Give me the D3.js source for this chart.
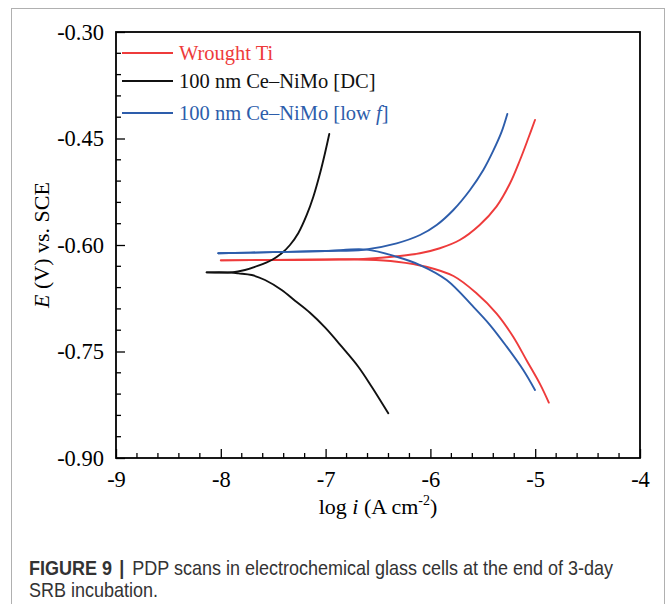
<!DOCTYPE html>
<html>
<head>
<meta charset="utf-8">
<script src="https://cdn.jsdelivr.net/npm/d3@7"></script>
<style>
  html, body { margin: 0; padding: 0; background: #fff; }
  svg { display: block; }
</style>
</head>
<body>
<svg id="chart" width="668" height="604"></svg>
<script>
// Potentiodynamic polarization scans: log i (A cm^-2) vs E (V vs. SCE)
const seriesNames = ["Wrought Ti", "100 nm Ce\u2013NiMo [DC]", "100 nm Ce\u2013NiMo [low f]"];
const seriesColors = ["#ee3b3b", "#111111", "#2d5dab"];

// Wrought Ti
const tiCathodicLogI = [-8.00, -7.50, -7.00, -6.60, -6.32, -6.04, -5.78, -5.56, -5.37, -5.21, -5.08, -4.95, -4.87];
const tiCathodicE    = [-0.6216, -0.6212, -0.6208, -0.6207, -0.6235, -0.6306, -0.6437, -0.668, -0.6962, -0.7292, -0.763, -0.797, -0.822];
const tiAnodicLogI   = [-8.00, -7.50, -7.00, -6.64, -6.29, -6.10, -5.91, -5.72, -5.53, -5.37, -5.24, -5.145, -5.066, -5.002];
const tiAnodicE      = [-0.6216, -0.6210, -0.6203, -0.6195, -0.6155, -0.6117, -0.6046, -0.593, -0.5718, -0.546, -0.5131, -0.4803, -0.4497, -0.4239];

// 100 nm Ce–NiMo [DC]
const dcCathodicLogI = [-8.135, -7.90, -7.833, -7.705, -7.578, -7.419, -7.292, -7.149, -7.006, -6.846, -6.688, -6.56, -6.402];
const dcCathodicE    = [-0.6385, -0.6387, -0.6399, -0.6423, -0.6493, -0.6634, -0.6785, -0.6955, -0.7161, -0.7432, -0.7714, -0.7996, -0.837];
const dcAnodicLogI   = [-8.135, -7.896, -7.769, -7.642, -7.514, -7.419, -7.34, -7.261, -7.18, -7.117, -7.053, -7.006, -6.965];
const dcAnodicE      = [-0.6385, -0.6385, -0.6352, -0.6292, -0.6211, -0.6117, -0.600, -0.5835, -0.5577, -0.532, -0.499, -0.4708, -0.4437];

// 100 nm Ce–NiMo [low f]
const lfCathodicLogI = [-8.024, -7.50, -7.00, -6.608, -6.322, -6.099, -5.845, -5.591, -5.431, -5.272, -5.114, -5.002];
const lfCathodicE    = [-0.6117, -0.6101, -0.6084, -0.6065, -0.6165, -0.6282, -0.6493, -0.6869, -0.7127, -0.7432, -0.7761, -0.8042];
const lfAnodicLogI   = [-8.024, -7.50, -7.00, -6.64, -6.322, -6.099, -5.94, -5.781, -5.622, -5.495, -5.40, -5.32, -5.266];
const lfAnodicE      = [-0.6117, -0.6101, -0.6084, -0.6068, -0.5976, -0.5859, -0.5718, -0.5507, -0.5225, -0.4944, -0.4672, -0.4404, -0.4155];

const xMajorTicks = [-9, -8, -7, -6, -5, -4];
const yMajorTicks = [-0.30, -0.45, -0.60, -0.75, -0.90];

const branches = [
  { s: 0, x: tiCathodicLogI, y: tiCathodicE },
  { s: 0, x: tiAnodicLogI,   y: tiAnodicE },
  { s: 1, x: dcCathodicLogI, y: dcCathodicE },
  { s: 1, x: dcAnodicLogI,   y: dcAnodicE },
  { s: 2, x: lfCathodicLogI, y: lfCathodicE },
  { s: 2, x: lfAnodicLogI,   y: lfAnodicE }
];

const svg = d3.select("#chart");
const serif = "'Liberation Serif', 'Times New Roman', serif";

// figure frame
svg.append("rect")
  .attr("x", 11.5).attr("y", 8.5).attr("width", 653).attr("height", 700)
  .attr("fill", "none").attr("stroke", "#b0b0b0").attr("stroke-width", 1);

const plot = { left: 116, right: 640, top: 32, bottom: 458 };
const x = d3.scaleLinear().domain([-9, -4]).range([plot.left, plot.right]);
const y = d3.scaleLinear().domain([-0.30, -0.90]).range([plot.top, plot.bottom]);

// minor ticks
const xMinor = d3.range(-9, -4 + 1e-9, 0.2).filter(v => Math.abs(v - Math.round(v)) > 1e-6);
const yMinor = d3.range(-0.30, -0.90 - 1e-9, -0.03).filter(v => !yMajorTicks.some(t => Math.abs(t - v) < 1e-6));

const g = svg.append("g");

g.selectAll("line.xminor").data(xMinor).join("line")
  .attr("x1", d => x(d)).attr("x2", d => x(d))
  .attr("y1", plot.bottom).attr("y2", plot.bottom - 5)
  .attr("stroke", "#000").attr("stroke-width", 1.3);
g.selectAll("line.yminor").data(yMinor).join("line")
  .attr("x1", plot.left).attr("x2", plot.left + 5)
  .attr("y1", d => y(d)).attr("y2", d => y(d))
  .attr("stroke", "#000").attr("stroke-width", 1.3);

// axes (ticks pointing inward), labels with a plain hyphen
const hyphen = s => s.replace("\u2212", "-");
const xAxis = d3.axisBottom(x).tickValues(xMajorTicks).tickSize(-9).tickPadding(13)
  .tickFormat(d => hyphen(d3.format("d")(d)));
const yAxis = d3.axisLeft(y).tickValues(yMajorTicks).tickSize(-9).tickPadding(12)
  .tickFormat(d => hyphen(d3.format(".2f")(d)));

const gx = g.append("g").attr("transform", `translate(0,${plot.bottom})`).call(xAxis);
const gy = g.append("g").attr("transform", `translate(${plot.left},0)`).call(yAxis);
[gx, gy].forEach(a => {
  a.select(".domain").remove();
  a.selectAll(".tick line").attr("stroke", "#000").attr("stroke-width", 1.3);
  a.selectAll(".tick text").attr("font-family", serif).attr("font-size", 22.5).attr("fill", "#000");
});
gx.selectAll(".tick text").attr("dy", "0.71em");

// plot box
g.append("rect")
  .attr("x", plot.left).attr("y", plot.top)
  .attr("width", plot.right - plot.left).attr("height", plot.bottom - plot.top)
  .attr("fill", "none").attr("stroke", "#000").attr("stroke-width", 1.8);

// curves
const line = d3.line().curve(d3.curveCatmullRom.alpha(0.5));
svg.append("clipPath").attr("id", "plotclip").append("rect")
  .attr("x", plot.left).attr("y", plot.top)
  .attr("width", plot.right - plot.left).attr("height", plot.bottom - plot.top);

const curves = svg.append("g").attr("clip-path", "url(#plotclip)");
curves.selectAll("path").data(branches).join("path")
  .attr("d", b => line(b.x.map((v, i) => [x(v), y(b.y[i])])))
  .attr("fill", "none")
  .attr("stroke", b => seriesColors[b.s])
  .attr("stroke-width", 1.9)
  .attr("stroke-linejoin", "round")
  .attr("stroke-linecap", "round");

// legend
const legendRows = [53, 81, 113];
const legend = svg.append("g");
seriesNames.forEach((name, i) => {
  legend.append("line")
    .attr("x1", 122).attr("x2", 173)
    .attr("y1", legendRows[i]).attr("y2", legendRows[i])
    .attr("stroke", seriesColors[i]).attr("stroke-width", 1.9);
  const t = legend.append("text")
    .attr("x", 179).attr("y", legendRows[i] + 7)
    .attr("font-family", serif).attr("font-size", 20.5)
    .attr("fill", seriesColors[i]);
  if (i === 2) {
    t.append("tspan").text("100 nm Ce\u2013NiMo [low ");
    t.append("tspan").attr("font-style", "italic").text("f");
    t.append("tspan").text("]");
  } else {
    t.text(name);
  }
});

// axis titles
const xt = svg.append("text")
  .attr("x", 378).attr("y", 514)
  .attr("text-anchor", "middle")
  .attr("font-family", serif).attr("font-size", 22).attr("fill", "#000");
xt.append("tspan").text("log ");
xt.append("tspan").attr("font-style", "italic").text("i");
xt.append("tspan").text(" (A cm");
xt.append("tspan").attr("font-size", 14).attr("dy", -9).text("-2");
xt.append("tspan").attr("dy", 9).text(")");

const yt = svg.append("text")
  .attr("transform", "translate(49,245) rotate(-90)")
  .attr("text-anchor", "middle")
  .attr("font-family", serif).attr("font-size", 22).attr("fill", "#000");
yt.append("tspan").attr("font-style", "italic").text("E");
yt.append("tspan").text(" (V) vs. SCE");

// caption (slightly condensed sans)
const sans = "'Liberation Sans', Arial, sans-serif";
const capScale = 0.9;
const cap = svg.append("g").attr("transform", `scale(${capScale},1)`)
  .attr("font-family", sans).attr("font-size", 20).attr("fill", "#333");
const cap1 = cap.append("text").attr("x", 29 / capScale).attr("y", 575);
cap1.append("tspan").attr("font-weight", "bold").text("FIGURE 9");
cap1.append("tspan").attr("font-weight", "bold").attr("dx", 8).text("|");
cap1.append("tspan").attr("dx", 9).text("PDP scans in electrochemical glass cells at the end of 3-day");
cap.append("text").attr("x", 29 / capScale).attr("y", 597).text("SRB incubation.");
</script>
</body>
</html>
